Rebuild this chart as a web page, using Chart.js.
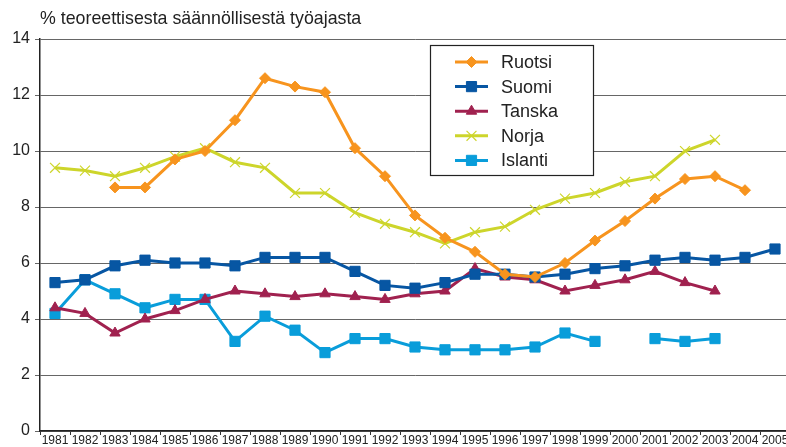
<!DOCTYPE html>
<html>
<head>
<meta charset="utf-8">
<script src="https://cdn.jsdelivr.net/npm/chart.js@4/dist/chart.umd.min.js"></script>
<style>
  html, body { margin: 0; padding: 0; background: #fff; overflow: hidden; }
</style>
</head>
<body>
<canvas id="chart" width="800" height="447"></canvas>
<script>
const years = ['1981','1982','1983','1984','1985','1986','1987','1988','1989','1990','1991','1992','1993',
  '1994','1995','1996','1997','1998','1999','2000','2001','2002','2003','2004','2005'];

const ruotsi  = [null, null, 8.7, 8.7, 9.7, 10.0, 11.1, 12.6, 12.3, 12.1, 10.1, 9.1, 7.7, 6.9, 6.4, 5.6, 5.5, 6.0, 6.8, 7.5, 8.3, 9.0, 9.1, 8.6, null];
const suomi   = [5.3, 5.4, 5.9, 6.1, 6.0, 6.0, 5.9, 6.2, 6.2, 6.2, 5.7, 5.2, 5.1, 5.3, 5.6, 5.6, 5.5, 5.6, 5.8, 5.9, 6.1, 6.2, 6.1, 6.2, 6.5];
const tanska  = [4.4, 4.2, 3.5, 4.0, 4.3, 4.7, 5.0, 4.9, 4.8, 4.9, 4.8, 4.7, 4.9, 5.0, 5.8, 5.5, 5.4, 5.0, 5.2, 5.4, 5.7, 5.3, 5.0, null, null];
const norja   = [9.4, 9.3, 9.1, 9.4, 9.8, 10.1, 9.6, 9.4, 8.5, 8.5, 7.8, 7.4, 7.1, 6.7, 7.1, 7.3, 7.9, 8.3, 8.5, 8.9, 9.1, 10.0, 10.4, null, null];
const islanti = [4.2, 5.4, 4.9, 4.4, 4.7, 4.7, 3.2, 4.1, 3.6, 2.8, 3.3, 3.3, 3.0, 2.9, 2.9, 2.9, 3.0, 3.5, 3.2, null, 3.3, 3.2, 3.3, null, null];

const titleText = '% teoreettisesta säännöllisestä työajasta';

function series(label, data, color, style, radius, bw) {
  return {
    label: label,
    data: data,
    borderColor: color,
    backgroundColor: color,
    borderWidth: 3,
    pointStyle: style,
    pointRadius: radius,
    pointBorderWidth: bw,
    pointBackgroundColor: color,
    pointBorderColor: color,
    tension: 0,
    spanGaps: false
  };
}

// otsikko ja selite piirretään itse
const extras = {
  id: 'extras',
  afterDraw(chart) {
    const ctx = chart.ctx;
    ctx.save();
    ctx.fillStyle = '#222';
    ctx.font = '17.8px "Liberation Sans", Arial, sans-serif';
    ctx.textBaseline = 'alphabetic';
    ctx.textAlign = 'left';
    ctx.fillText(titleText, 40, 24);

    // selitelaatikko
    ctx.fillStyle = '#fff';
    ctx.fillRect(430, 45, 163, 130);
    ctx.strokeStyle = '#222';
    ctx.lineWidth = 1.2;
    ctx.strokeRect(430.5, 45.5, 163, 130);

    ctx.font = '18px "Liberation Sans", Arial, sans-serif';
    ctx.textBaseline = 'middle';
    chart.data.datasets.forEach((ds, i) => {
      const y = 62 + i * 24.6;
      ctx.strokeStyle = ds.borderColor;
      ctx.lineWidth = 3;
      ctx.beginPath();
      ctx.moveTo(455, y);
      ctx.lineTo(488, y);
      ctx.stroke();
      ctx.fillStyle = ds.pointBackgroundColor;
      ctx.lineWidth = ds.pointBorderWidth;
      Chart.helpers.drawPoint(ctx, {pointStyle: ds.pointStyle, radius: ds.pointRadius, borderWidth: ds.pointBorderWidth, rotation: 0}, 471.5, y);
      ctx.fillStyle = '#222';
      ctx.fillText(ds.label, 501, y + 1);
    });
    ctx.restore();
  }
};

const ctx = document.getElementById('chart').getContext('2d');

let chart = new Chart(ctx, {
  type: 'line',
  data: {
    labels: years,
    datasets: [
      series('Ruotsi', ruotsi, '#F7941E', 'rectRot', 5.5, 1),
      series('Suomi', suomi, '#0756A3', 'rect', 7.2, 1),
      series('Tanska', tanska, '#A0214F', 'triangle', 6, 1),
      series('Norja', norja, '#CDD52B', 'crossRot', 7, 1.2),
      series('Islanti', islanti, '#099DDA', 'rect', 7.2, 1)
    ]
  },
  options: {
    responsive: false,
    animation: false,
    devicePixelRatio: 1,
    layout: { padding: { top: 39, right: 10, left: 0, bottom: 0 } },
    plugins: {
      legend: { display: false },
      tooltip: { enabled: false }
    },
    scales: {
      x: {
        offset: true,
        grid: { offset: true, drawOnChartArea: false, drawTicks: true, tickLength: 4, color: '#333' },
        border: { display: true, color: '#222', width: 1.5 },
        ticks: {
          autoSkip: false, maxRotation: 0, minRotation: 0, padding: 0,
          color: '#222',
          font: { family: '"Liberation Sans Narrow", "Arial Narrow", sans-serif', size: 12, lineHeight: 1 }
        },
        afterFit(scale) { scale.height = 16; }
      },
      y: {
        min: 0,
        max: 14,
        grid: { color: '#666', lineWidth: 1, tickLength: 5 },
        border: { display: true, color: '#222', width: 1.5 },
        ticks: {
          stepSize: 2, padding: 5, color: '#222',
          font: { family: '"Liberation Sans", Arial, sans-serif', size: 16 }
        },
        afterFit(scale) { scale.width = 40; }
      }
    }
  },
  plugins: [extras]
});
</script>
</body>
</html>
